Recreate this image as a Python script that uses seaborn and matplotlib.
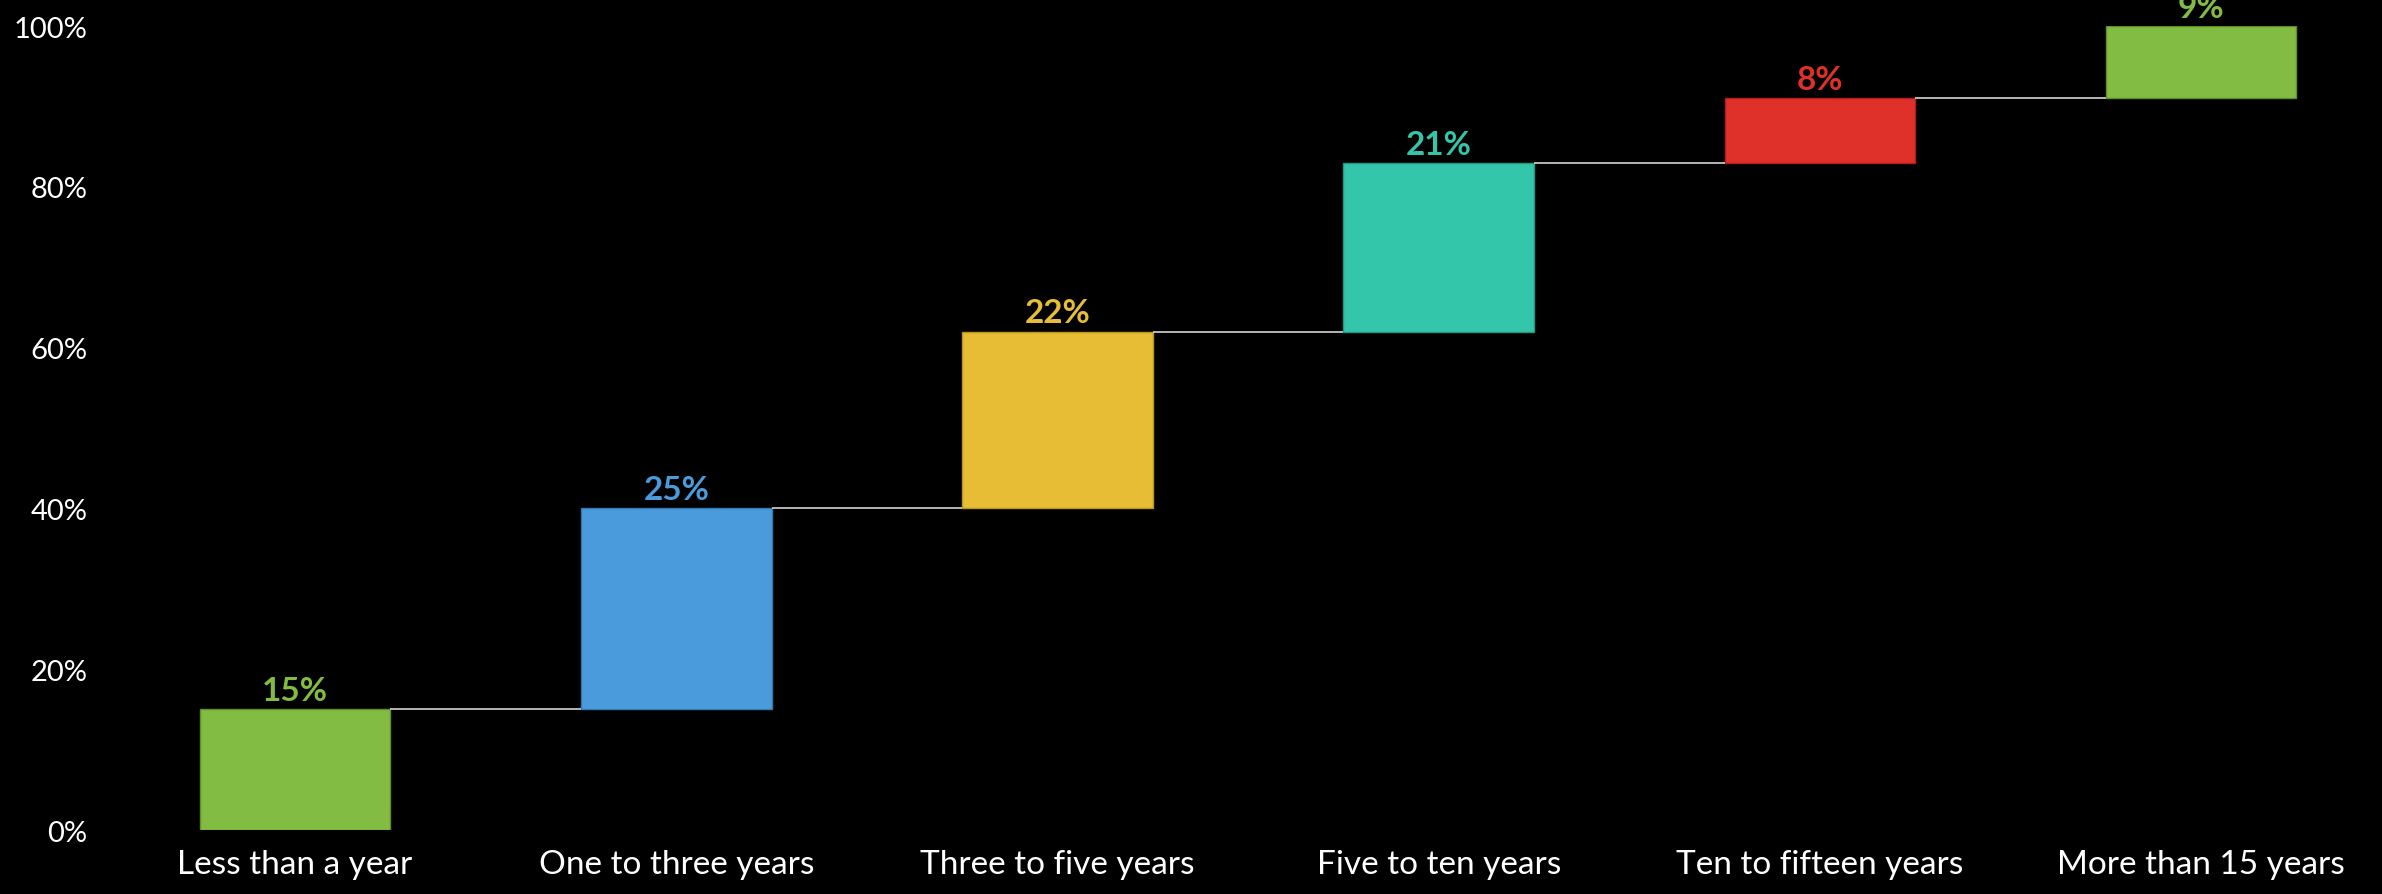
import matplotlib
matplotlib.use("Agg")
import matplotlib.pyplot as plt
import seaborn as sns
import numpy as np

# Tenure breakdown (share of total, in percent)
categories = ["Less than a year", "One to three years", "Three to five years",
              "Five to ten years", "Ten to fifteen years", "More than 15 years"]
shares = [15, 25, 22, 21, 8, 9]
bar_colors = ["#82BC42", "#4A9BDC", "#E6BD34", "#33C6AA", "#DF3029", "#82BC42"]
edge_colors = ["#5F8F2C", "#3579B0", "#B8951F", "#23977F", "#B01F1A", "#5F8F2C"]
yticks = [0, 20, 40, 60, 80, 100]
ytick_labels = ["0%", "20%", "40%", "60%", "80%", "100%"]

sns.set_theme(style="dark")
plt.rcParams["font.family"] = ["Lato", "DejaVu Sans"]

fig = plt.figure(figsize=(23.82, 8.95), dpi=100, facecolor="black")
ax = fig.add_axes([0.0438, 0.0715, 0.9539, 0.8983])
ax.set_facecolor("black")

tops = np.cumsum(shares)
bases = tops - np.array(shares)

# Floating waterfall bars: one seaborn call per step so each keeps its own base
for cat, val, base, col, ec in zip(categories, shares, bases, bar_colors, edge_colors):
    sns.barplot(x=[cat], y=[val], order=categories, bottom=base, color=col,
                saturation=1, width=0.5, edgecolor=ec, linewidth=1.0, ax=ax)

# Connector lines between consecutive steps
for i in range(len(shares) - 1):
    ax.plot([i + 0.25, i + 0.75], [tops[i], tops[i]], color="#d4d4d4",
            linewidth=1.2, zorder=1, solid_capstyle="butt")

# Value labels above each bar
for i, (val, top, col) in enumerate(zip(shares, tops, bar_colors)):
    ax.annotate(f"{val}%", xy=(i, top), xytext=(0, 3), textcoords="offset points",
                ha="center", va="bottom", color=col, fontsize=24,
                fontweight="bold", clip_on=False, annotation_clip=False)

ax.set_xlim(-0.5, 5.46)
ax.set_ylim(0, 100)
ax.set_yticks(yticks)
ax.set_yticklabels(ytick_labels)
ax.set_xlabel("")
ax.set_ylabel("")
ax.grid(False)
for s in ax.spines.values():
    s.set_visible(False)
ax.tick_params(axis="y", length=0, pad=12, labelsize=21, labelcolor="white")
ax.tick_params(axis="x", length=0, pad=14, labelsize=24, labelcolor="white")

fig.savefig("out.png", dpi=100, facecolor="black")
